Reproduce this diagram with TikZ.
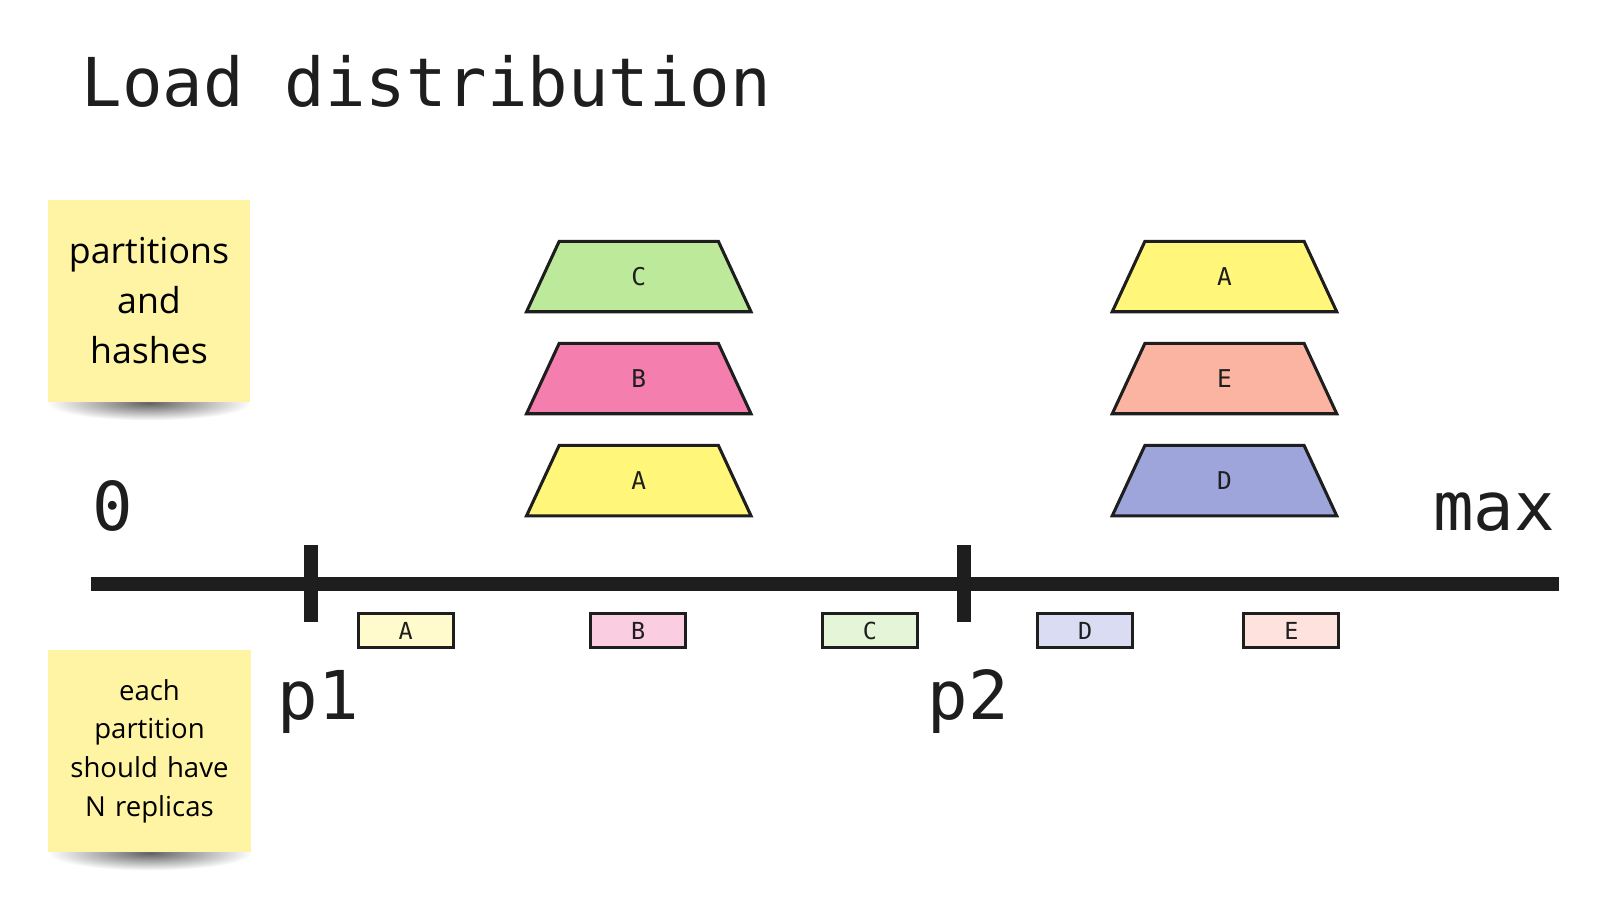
\documentclass[tikz,border=0pt]{standalone}
\usepackage{fontspec}
\setmainfont{Open Sans}
\newfontfamily\monof{DejaVu Sans Mono}
\usetikzlibrary{calc}
\definecolor{ink}{HTML}{1E1E1E}
\definecolor{sticky}{HTML}{FEF4A4}
\definecolor{tgreen}{HTML}{BDE99A}
\definecolor{tpink}{HTML}{F47FAE}
\definecolor{tyellow}{HTML}{FFF67A}
\definecolor{tsalmon}{HTML}{FBB4A2}
\definecolor{tblue}{HTML}{9DA5DA}
\definecolor{byellow}{HTML}{FFFBCC}
\definecolor{bpink}{HTML}{FBCDE0}
\definecolor{bgreen}{HTML}{E5F5D8}
\definecolor{bblue}{HTML}{D9DCF2}
\definecolor{bsalmon}{HTML}{FDE2DE}
\tikzset{
  note/.style={fill=sticky, minimum width=198pt, minimum height=198pt, inner sep=0pt,
    text width=190pt, align=center},
  noteshadow/.style={inner color=black!62, outer color=white},
  trap/.style={rectangle, minimum width=226pt, minimum height=75pt, inner sep=0pt,
    font=\monof\fontsize{24}{28}\selectfont, text=ink,
    path picture={
      \draw[draw=ink, line width=3pt, line join=miter, fill=#1]
        ($(path picture bounding box.south west)+(3,-3)$) --
        ($(path picture bounding box.north west)+(35,3)$) --
        ($(path picture bounding box.north east)+(-35,3)$) --
        ($(path picture bounding box.south east)+(-3,-3)$) -- cycle;
    }},
  hbox/.style={rectangle, minimum width=93pt, minimum height=34pt, inner sep=0pt, draw=ink, line width=3pt,
    font=\monof\fontsize{23}{26}\selectfont, text=ink},
  biglabel/.style={font=\monof\fontsize{66}{70}\selectfont, text=ink, inner sep=0pt},
  axisline/.style={draw=ink, line width=14pt},
}
\begin{document}
\begin{tikzpicture}[x=1pt,y=-1pt]
\useasboundingbox (0,0) rectangle (1568,882);
\fill[white] (0,0) rectangle (1568,882);

% title
\node[biglabel, anchor=base west] (title) at (80,104) {Load distribution};

% sticky note shadows
\shade[noteshadow] (146,395) ellipse [x radius=100, y radius=17];
\shade[noteshadow] (147,836) ellipse [x radius=100, y radius=17];

% sticky notes
\node[note, font=\fontsize{35}{49}\selectfont] (n1) at (146,295) {partitions\\and\\hashes};
\node[note, font=\fontsize{27}{38}\selectfont] (n2) at (146.5,736) {each\\partition\\should have\\N replicas};

% axis
\coordinate (axL) at (89,572);
\coordinate (axR) at (1528,572);
\draw[axisline] (axL) -- (axR);
\coordinate (t1a) at (305,534); \coordinate (t1b) at (305,610);
\coordinate (t2a) at (945,534); \coordinate (t2b) at (945,610);
\draw[axisline] (t1a) -- (t1b);
\draw[axisline] (t2a) -- (t2b);

% axis labels
\node[biglabel, anchor=base west] (zero) at (90,520) {0};
\node[biglabel, anchor=base east] (max) at (1524,520) {max};
\node[biglabel, anchor=base west] (p1) at (272,705) {p1};
\node[biglabel, anchor=base west] (p2) at (909,705) {p2};

% partition trapezoids
\node[trap=tgreen]  (lc) at (626,271) {C};
\node[trap=tpink]   (lb) at (626,371) {B};
\node[trap=tyellow] (la) at (626,471) {A};
\node[trap=tyellow] (ra) at (1200,271) {A};
\node[trap=tsalmon] (re) at (1200,371) {E};
\node[trap=tblue]   (rd) at (1200,471) {D};

% hash boxes
\node[hbox, fill=byellow] (ha) at (397.5,618) {A};
\node[hbox, fill=bpink]   (hb) at (625.5,618) {B};
\node[hbox, fill=bgreen]  (hc) at (852.5,618) {C};
\node[hbox, fill=bblue]   (hd) at (1063.5,618) {D};
\node[hbox, fill=bsalmon] (he) at (1265.5,618) {E};
\end{tikzpicture}
\end{document}
